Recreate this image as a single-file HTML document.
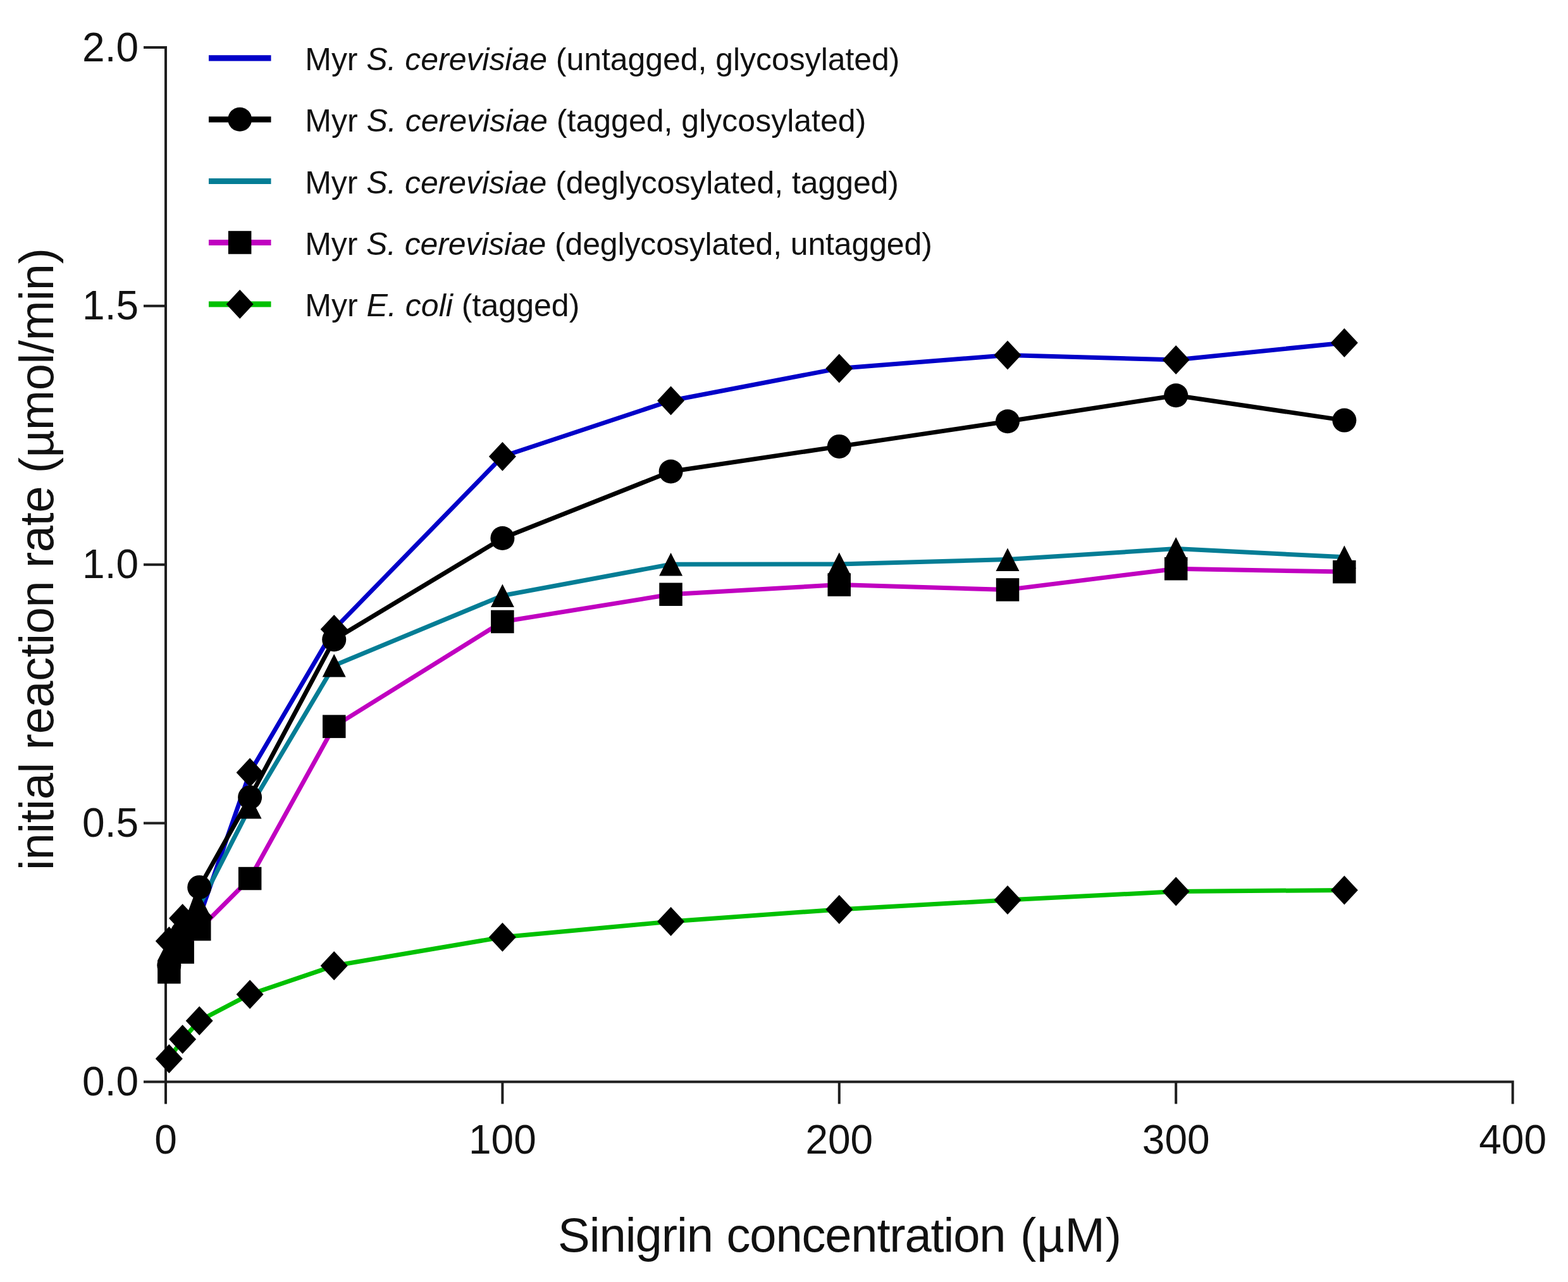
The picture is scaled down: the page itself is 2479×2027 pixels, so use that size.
<!DOCTYPE html>
<html><head><meta charset="utf-8"><title>Initial reaction rate vs sinigrin concentration</title>
<style>
html,body{margin:0;padding:0;background:#fff;}
body{width:2479px;height:2027px;overflow:hidden;}
svg{display:block;}
text{font-family:"Liberation Sans",Arial,Helvetica,sans-serif;fill:#111111;}
.tk{font-size:64px;}
.lg{font-size:50px;}
.ttl{font-size:76px;}
</style></head>
<body>
<svg width="2479" height="2027" viewBox="0 0 2479 2027">
<rect width="2479" height="2027" fill="#fff"/>
<path d="M227.0,75.0 H262.0 V1745.4" fill="none" stroke="#1e1e1e" stroke-width="4" stroke-linejoin="miter"/>
<path d="M227.0,1710.4 H2391.6 V1745.4" fill="none" stroke="#1e1e1e" stroke-width="4" stroke-linejoin="miter"/>
<line x1="227.0" y1="1301.6" x2="262.0" y2="1301.6" stroke="#1e1e1e" stroke-width="4"/>
<line x1="227.0" y1="892.7" x2="262.0" y2="892.7" stroke="#1e1e1e" stroke-width="4"/>
<line x1="227.0" y1="483.8" x2="262.0" y2="483.8" stroke="#1e1e1e" stroke-width="4"/>
<line x1="794.4" y1="1710.4" x2="794.4" y2="1745.4" stroke="#1e1e1e" stroke-width="4"/>
<line x1="1326.8" y1="1710.4" x2="1326.8" y2="1745.4" stroke="#1e1e1e" stroke-width="4"/>
<line x1="1859.2" y1="1710.4" x2="1859.2" y2="1745.4" stroke="#1e1e1e" stroke-width="4"/>
<polyline points="267.3,1488.0 288.6,1452.0 315.2,1450.4 395.1,1221.4 528.2,994.9 794.4,721.8 1060.6,633.5 1326.8,582.4 1593.0,561.5 1859.2,568.9 2125.4,541.9" fill="none" stroke="#0000c8" stroke-width="7.0" stroke-linejoin="round"/>
<polyline points="267.3,1526.4 288.6,1474.9 315.2,1402.9 395.1,1260.7 528.2,1011.3 794.4,851.0 1060.6,745.5 1326.8,705.9 1593.0,666.2 1859.2,625.3 2125.4,664.6" fill="none" stroke="#000000" stroke-width="7.0" stroke-linejoin="round"/>
<polyline points="267.3,1501.1 288.6,1461.0 315.2,1432.4 395.1,1276.2 528.2,1052.2 794.4,941.8 1060.6,892.2 1326.8,891.9 1593.0,884.6 1859.2,867.6 2125.4,880.8" fill="none" stroke="#047d95" stroke-width="7.0" stroke-linejoin="round"/>
<polyline points="267.3,1537.0 288.6,1505.4 315.2,1469.2 395.1,1389.0 528.2,1148.6 794.4,983.0 1060.6,939.8 1326.8,924.6 1593.0,932.4 1859.2,899.2 2125.4,904.1" fill="none" stroke="#c000c0" stroke-width="7.0" stroke-linejoin="round"/>
<polyline points="267.3,1673.9 288.6,1643.3 315.2,1613.9 395.1,1572.2 528.2,1527.0 794.4,1481.7 1060.6,1457.1 1326.8,1437.9 1593.0,1423.1 1859.2,1409.5 2125.4,1407.4" fill="none" stroke="#00c000" stroke-width="7.0" stroke-linejoin="round"/>
<g fill="#000"><polygon points="267.3,1465.0 288.8,1488.0 267.3,1511.0 245.8,1488.0"/><polygon points="288.6,1429.0 310.1,1452.0 288.6,1475.0 267.1,1452.0"/><polygon points="315.2,1427.4 336.7,1450.4 315.2,1473.4 293.7,1450.4"/><polygon points="395.1,1198.4 416.6,1221.4 395.1,1244.4 373.6,1221.4"/><polygon points="528.2,971.9 549.7,994.9 528.2,1017.9 506.7,994.9"/><polygon points="794.4,698.8 815.9,721.8 794.4,744.8 772.9,721.8"/><polygon points="1060.6,610.5 1082.1,633.5 1060.6,656.5 1039.1,633.5"/><polygon points="1326.8,559.4 1348.3,582.4 1326.8,605.4 1305.3,582.4"/><polygon points="1593.0,538.5 1614.5,561.5 1593.0,584.5 1571.5,561.5"/><polygon points="1859.2,545.9 1880.7,568.9 1859.2,591.9 1837.7,568.9"/><polygon points="2125.4,518.9 2146.9,541.9 2125.4,564.9 2103.9,541.9"/></g>
<g fill="#000"><circle cx="267.3" cy="1526.4" r="19.0"/><circle cx="288.6" cy="1474.9" r="19.0"/><circle cx="315.2" cy="1402.9" r="19.0"/><circle cx="395.1" cy="1260.7" r="19.0"/><circle cx="528.2" cy="1011.3" r="19.0"/><circle cx="794.4" cy="851.0" r="19.0"/><circle cx="1060.6" cy="745.5" r="19.0"/><circle cx="1326.8" cy="705.9" r="19.0"/><circle cx="1593.0" cy="666.2" r="19.0"/><circle cx="1859.2" cy="625.3" r="19.0"/><circle cx="2125.4" cy="664.6" r="19.0"/></g>
<g fill="#000"><polygon points="267.3,1482.8 285.8,1519.3 248.8,1519.3"/><polygon points="288.6,1442.8 307.1,1479.3 270.1,1479.3"/><polygon points="315.2,1414.1 333.7,1450.6 296.7,1450.6"/><polygon points="395.1,1258.0 413.6,1294.5 376.6,1294.5"/><polygon points="528.2,1033.9 546.7,1070.4 509.7,1070.4"/><polygon points="794.4,923.5 812.9,960.0 775.9,960.0"/><polygon points="1060.6,874.0 1079.1,910.5 1042.1,910.5"/><polygon points="1326.8,873.6 1345.3,910.1 1308.3,910.1"/><polygon points="1593.0,866.4 1611.5,902.9 1574.5,902.9"/><polygon points="1859.2,849.3 1877.7,885.8 1840.7,885.8"/><polygon points="2125.4,862.5 2143.9,899.0 2106.9,899.0"/></g>
<g fill="#000"><rect x="249.1" y="1518.8" width="36.5" height="36.5"/><rect x="270.4" y="1487.2" width="36.5" height="36.5"/><rect x="297.0" y="1450.9" width="36.5" height="36.5"/><rect x="376.9" y="1370.8" width="36.5" height="36.5"/><rect x="510.0" y="1130.4" width="36.5" height="36.5"/><rect x="776.1" y="964.7" width="36.5" height="36.5"/><rect x="1042.3" y="921.5" width="36.5" height="36.5"/><rect x="1308.5" y="906.3" width="36.5" height="36.5"/><rect x="1574.8" y="914.2" width="36.5" height="36.5"/><rect x="1841.0" y="881.0" width="36.5" height="36.5"/><rect x="2107.1" y="885.9" width="36.5" height="36.5"/></g>
<g fill="#000"><polygon points="267.3,1650.9 288.8,1673.9 267.3,1696.9 245.8,1673.9"/><polygon points="288.6,1620.3 310.1,1643.3 288.6,1666.3 267.1,1643.3"/><polygon points="315.2,1590.9 336.7,1613.9 315.2,1636.9 293.7,1613.9"/><polygon points="395.1,1549.2 416.6,1572.2 395.1,1595.2 373.6,1572.2"/><polygon points="528.2,1504.0 549.7,1527.0 528.2,1550.0 506.7,1527.0"/><polygon points="794.4,1458.7 815.9,1481.7 794.4,1504.7 772.9,1481.7"/><polygon points="1060.6,1434.1 1082.1,1457.1 1060.6,1480.1 1039.1,1457.1"/><polygon points="1326.8,1414.9 1348.3,1437.9 1326.8,1460.9 1305.3,1437.9"/><polygon points="1593.0,1400.1 1614.5,1423.1 1593.0,1446.1 1571.5,1423.1"/><polygon points="1859.2,1386.5 1880.7,1409.5 1859.2,1432.5 1837.7,1409.5"/><polygon points="2125.4,1384.4 2146.9,1407.4 2125.4,1430.4 2103.9,1407.4"/></g>
<text x="219" y="1731.9" text-anchor="end" class="tk">0.0</text>
<text x="219" y="1323.1" text-anchor="end" class="tk">0.5</text>
<text x="219" y="914.2" text-anchor="end" class="tk">1.0</text>
<text x="219" y="505.3" text-anchor="end" class="tk">1.5</text>
<text x="219" y="96.5" text-anchor="end" class="tk">2.0</text>
<text x="262.0" y="1823.5" text-anchor="middle" class="tk">0</text>
<text x="794.4" y="1823.5" text-anchor="middle" class="tk">100</text>
<text x="1326.8" y="1823.5" text-anchor="middle" class="tk">200</text>
<text x="1859.2" y="1823.5" text-anchor="middle" class="tk">300</text>
<text x="2391.6" y="1823.5" text-anchor="middle" class="tk">400</text>
<text y="1979.2" class="ttl"><tspan x="882.0" textLength="246.0" lengthAdjust="spacing">Sinigrin</tspan> <tspan x="1148.5" textLength="442.0" lengthAdjust="spacing">concentration</tspan> <tspan x="1613.0" textLength="160.0" lengthAdjust="spacing">(µM)</tspan></text>
<text transform="translate(84.2,1376) rotate(-90)" x="0" y="0" class="ttl" textLength="984" lengthAdjust="spacing">initial reaction rate (µmol/min)</text>
<line x1="330" y1="91.9" x2="428.5" y2="91.9" stroke="#0000c8" stroke-width="9.2"/>
<text x="482.3" y="110.9" class="lg" textLength="940.2" lengthAdjust="spacing">Myr <tspan font-style="italic">S. cerevisiae</tspan> (untagged, glycosylated)</text>
<line x1="330" y1="188.8" x2="428.5" y2="188.8" stroke="#000000" stroke-width="9.2"/>
<g fill="#000"><circle cx="379.2" cy="188.8" r="19.0"/></g>
<text x="482.3" y="207.8" class="lg" textLength="887.0" lengthAdjust="spacing">Myr <tspan font-style="italic">S. cerevisiae</tspan> (tagged, glycosylated)</text>
<line x1="330" y1="286.5" x2="428.5" y2="286.5" stroke="#047d95" stroke-width="9.2"/>
<text x="482.3" y="305.5" class="lg" textLength="938.7" lengthAdjust="spacing">Myr <tspan font-style="italic">S. cerevisiae</tspan> (deglycosylated, tagged)</text>
<line x1="330" y1="383.5" x2="428.5" y2="383.5" stroke="#c000c0" stroke-width="9.2"/>
<g fill="#000"><rect x="360.9" y="365.2" width="36.5" height="36.5"/></g>
<text x="482.3" y="402.5" class="lg" textLength="991.5" lengthAdjust="spacing">Myr <tspan font-style="italic">S. cerevisiae</tspan> (deglycosylated, untagged)</text>
<line x1="330" y1="481.0" x2="428.5" y2="481.0" stroke="#00c000" stroke-width="9.2"/>
<g fill="#000"><polygon points="379.2,458.0 400.7,481.0 379.2,504.0 357.7,481.0"/></g>
<text x="482.3" y="500.0" class="lg" textLength="434.0" lengthAdjust="spacing">Myr <tspan font-style="italic">E. coli</tspan> (tagged)</text>
</svg>
</body></html>
